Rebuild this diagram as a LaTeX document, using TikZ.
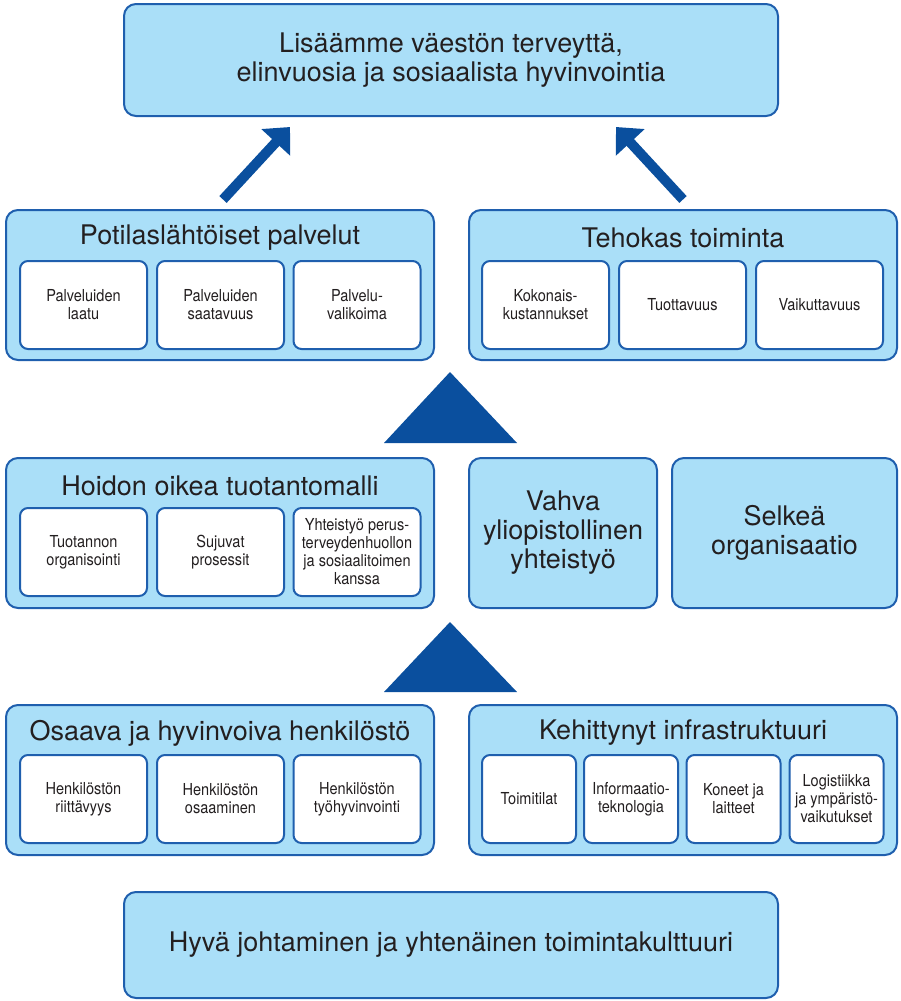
\documentclass[tikz,border=0pt]{standalone}
\usepackage{fontspec}
\setmainfont{TeX Gyre Heros}
\newfontfamily\condfont[FakeStretch=0.88]{TeX Gyre Heros}
\usetikzlibrary{arrows.meta}
\usetikzlibrary{positioning}
\definecolor{boxfill}{HTML}{AADFF8}
\definecolor{boxline}{HTML}{1F5FAE}
\definecolor{darkblue}{HTML}{0A4F9E}
\definecolor{txt}{HTML}{231F20}
\tikzset{
group/.style={
	rectangle,
	rounded corners=12pt,
	draw=boxline,
	line width=2pt,
	fill=boxfill,
	inner sep=0pt
},
bigtext/.style={
	text=txt,
	align=center,
	font=\fontsize{27}{29}\selectfont
},
item/.style={
	rectangle,
	rounded corners=8pt,
	minimum height=88pt,
	draw=boxline,
	line width=2pt,
	fill=white,
	text=txt,
	align=center,
	inner sep=2pt,
	font=\condfont\fontsize{16.5}{18}\selectfont
},
bigarrow/.style={
	draw=darkblue,
	line width=10pt,
	line cap=butt,
	-{Triangle[length=21pt,width=38pt]}
}
}

\begin{document}
\begin{tikzpicture}[x=1pt, y=-1pt]
\useasboundingbox (0,0) rectangle (900,1001);
% ===== Goal at the top =====
\node (goal)  [group, bigtext, minimum width=654pt, minimum height=112pt] at (451, 60)
	{Lisäämme väestön terveyttä,\\elinvuosia ja sosiaalista hyvinvointia};
% ===== Row 1: results =====
\node (pat)   [group, minimum width=428pt, minimum height=150pt] at (220, 285) {};
\node (teh)   [group, minimum width=428pt, minimum height=150pt] at (683, 285) {};
\node (patT)  [bigtext] at (220, 238) {Potilaslähtöiset palvelut};
\node (tehT)  [bigtext] at (683, 238) {Tehokas toiminta};
\node (laatu) [item, minimum width=127pt] at (83.5, 305)  {Palveluiden\\laatu};
\node (saat)  [item, minimum width=127pt] at (220.5, 305) {Palveluiden\\saatavuus};
\node (valik) [item, minimum width=127pt] at (357, 305)   {Palvelu-\\valikoima};
\node (kust)  [item, minimum width=127pt] at (545.5, 305) {Kokonais-\\kustannukset};
\node (tuot)  [item, minimum width=127pt] at (682.5, 305) {Tuottavuus};
\node (vaik)  [item, minimum width=127pt] at (819.5, 305) {Vaikuttavuus};
% ===== Row 2: processes =====
\node (hoid)  [group, minimum width=428pt, minimum height=150pt] at (220, 533) {};
\node (hoidT) [bigtext] at (220, 486) {Hoidon oikea tuotantomalli};
\node (org)   [item, minimum width=127pt] at (83.5, 552)  {Tuotannon\\organisointi};
\node (pros)  [item, minimum width=127pt] at (220.5, 552) {Sujuvat\\prosessit};
\node (yht)   [item, minimum width=127pt] at (357, 552)   {Yhteistyö perus-\\terveydenhuollon\\ja sosiaalitoimen\\kanssa};
\node (yliop) [group, bigtext, minimum width=188pt, minimum height=150pt] at (563, 533)
	{Vahva\\yliopistollinen\\yhteistyö};
\node (selk)  [group, bigtext, minimum width=225pt, minimum height=150pt] at (784.5, 533)
	{Selkeä\\organisaatio};
% ===== Row 3: resources =====
\node (henk)  [group, minimum width=428pt, minimum height=150pt] at (220, 780) {};
\node (infra) [group, minimum width=428pt, minimum height=150pt] at (683, 780) {};
\node (henkT) [bigtext] at (220, 733) {Osaava ja hyvinvoiva henkilöstö};
\node (infT)  [bigtext] at (683, 733) {Kehittynyt infrastruktuuri};
\node (riit)  [item, minimum width=127pt] at (83.5, 799)  {Henkilöstön\\riittävyys};
\node (osaa)  [item, minimum width=127pt] at (220.5, 799) {Henkilöstön\\osaaminen};
\node (tyoh)  [item, minimum width=127pt] at (357, 799)   {Henkilöstön\\työhyvinvointi};
\node (tila)  [item, minimum width=94pt] at (529, 799)   {Toimitilat};
\node (it)    [item, minimum width=94pt] at (631, 799)   {Informaatio-\\teknologia};
\node (kone)  [item, minimum width=94pt] at (733.5, 799) {Koneet ja\\laitteet};
\node (logi)  [item, minimum width=94pt] at (836.5, 799) {Logistiikka\\ja ympäristö-\\vaikutukset};
% ===== Foundation =====
\node (johto) [group, bigtext, minimum width=654pt, minimum height=106pt] at (451, 945)
	{Hyvä johtaminen ja yhtenäinen toimintakulttuuri};

% triangles between the rows
\fill [darkblue] (384,443) -- (450,372) -- (517,443) -- cycle;
\fill [darkblue] (384,692) -- (450,622) -- (517,692) -- cycle;

% arrows up to the goal
\coordinate (lfrom) at (223,199.5);
\coordinate (lto)   at (290,127);
\coordinate (rfrom) at (683,199.5);
\coordinate (rto)   at (616,127);
\draw [bigarrow] (lfrom) -- (lto);
\draw [bigarrow] (rfrom) -- (rto);

\end{tikzpicture}
\end{document}
